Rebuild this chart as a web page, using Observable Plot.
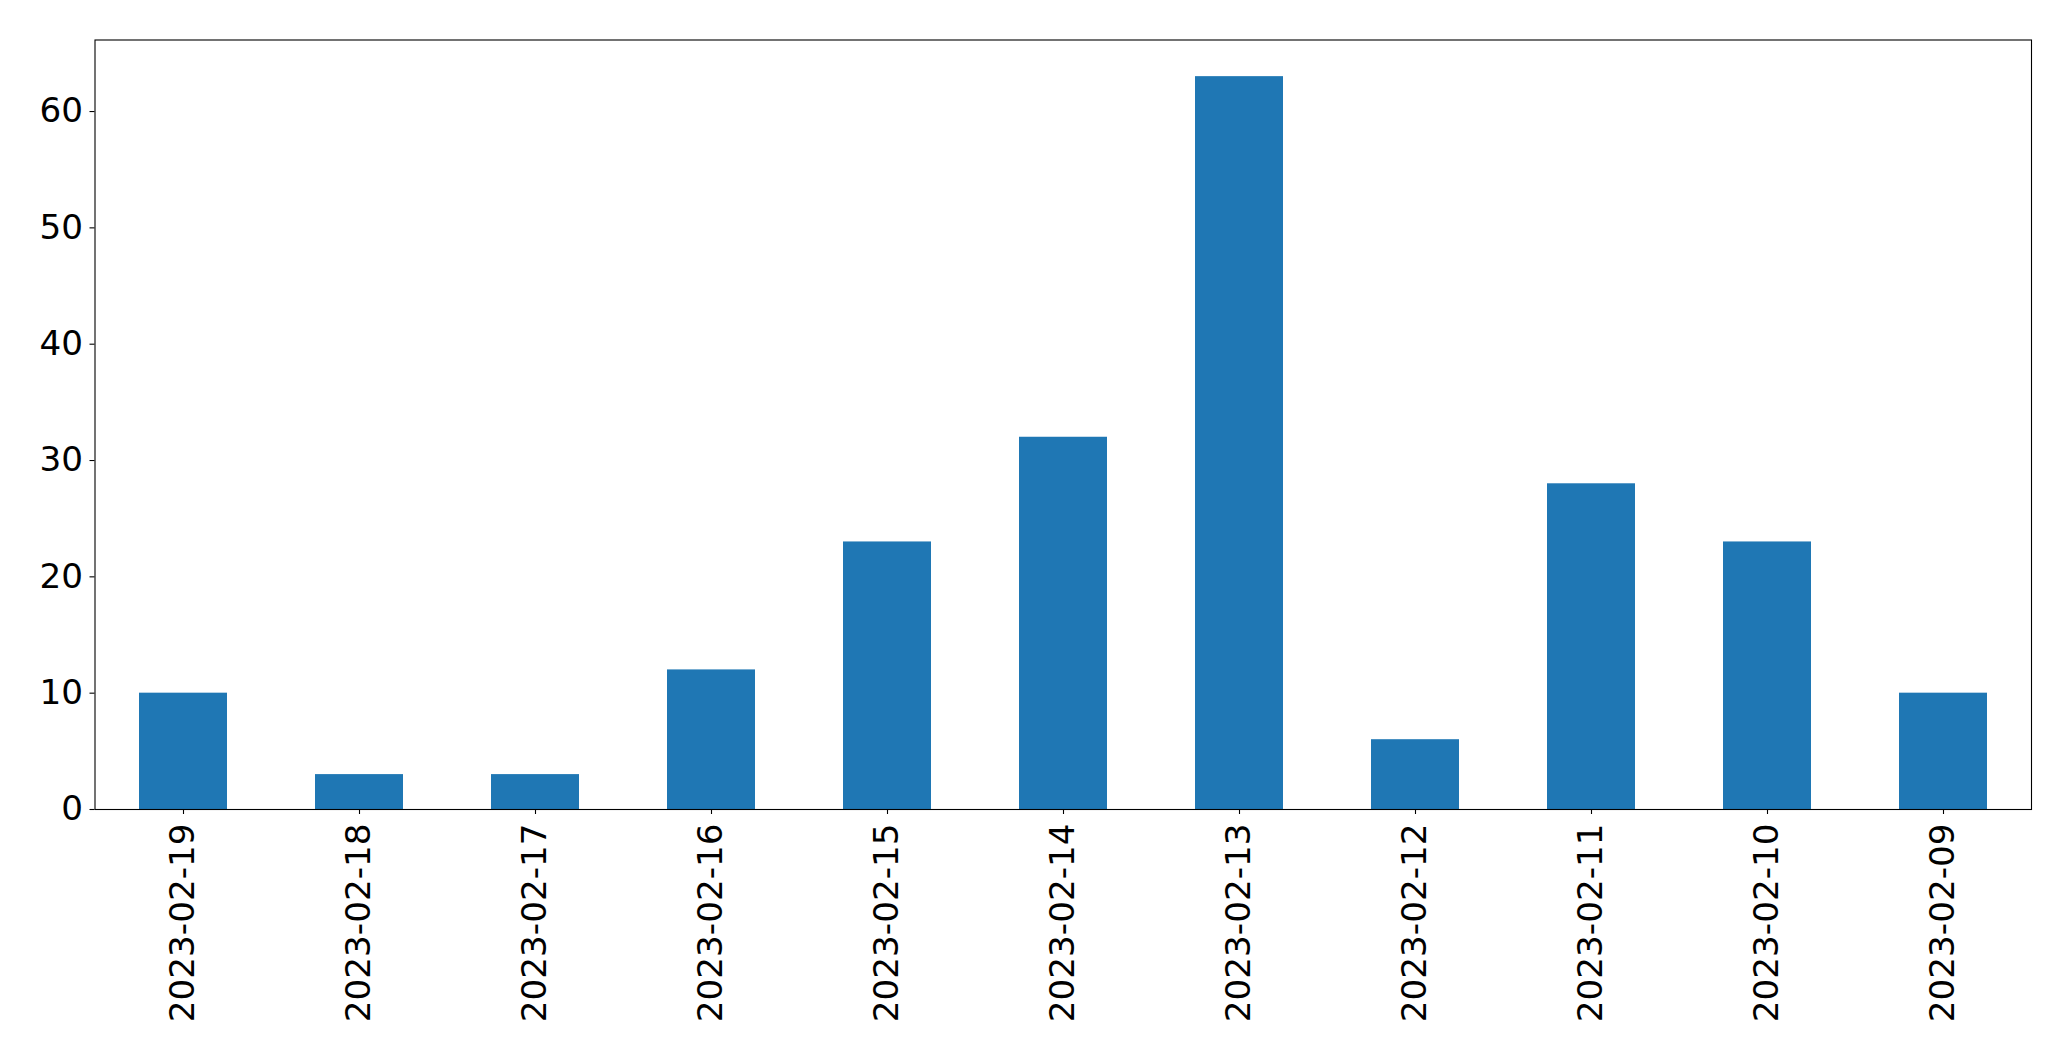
<!DOCTYPE html>
<html>
<head>
<meta charset="utf-8">
<script src="https://cdn.jsdelivr.net/npm/d3@7"></script>
<script src="https://cdn.jsdelivr.net/npm/@observablehq/plot@0.6"></script>
<style>
  html, body { margin: 0; padding: 0; background: #fff; }
  svg { display: block; }
</style>
</head>
<body>
<div id="chart"></div>
<script>
const dates = ["2023-02-19","2023-02-18","2023-02-17","2023-02-16","2023-02-15","2023-02-14","2023-02-13","2023-02-12","2023-02-11","2023-02-10","2023-02-09"];
const counts = [10, 3, 3, 12, 23, 32, 63, 6, 28, 23, 10];
const yTicks = [0, 10, 20, 30, 40, 50, 60];

const data = dates.map((d, i) => ({date: d, count: counts[i]}));

const chart = Plot.plot({
  width: 2071,
  height: 1061,
  marginLeft: 94.5,
  marginRight: 40,
  marginTop: 39.5,
  marginBottom: 252,
  style: {fontFamily: "DejaVu Sans", fontSize: "34.2px", color: "#000", background: "#fff"},
  x: {type: "band", domain: dates, paddingInner: 0.5, paddingOuter: 0.25, label: null},
  y: {domain: [0, 66.15], label: null},
  marks: [
    Plot.barY(data, {x: "date", y: "count", fill: "#1f77b4"}),
    Plot.axisX({tickRotate: -90, tickSize: 5, tickPadding: 9, label: null, strokeWidth: 1.1}),
    Plot.axisY({ticks: yTicks, tickSize: 5, tickPadding: 7, label: null, strokeWidth: 1.1}),
    Plot.frame({stroke: "#000", strokeWidth: 1.1})
  ]
});
document.getElementById("chart").appendChild(chart);
</script>
</body>
</html>
